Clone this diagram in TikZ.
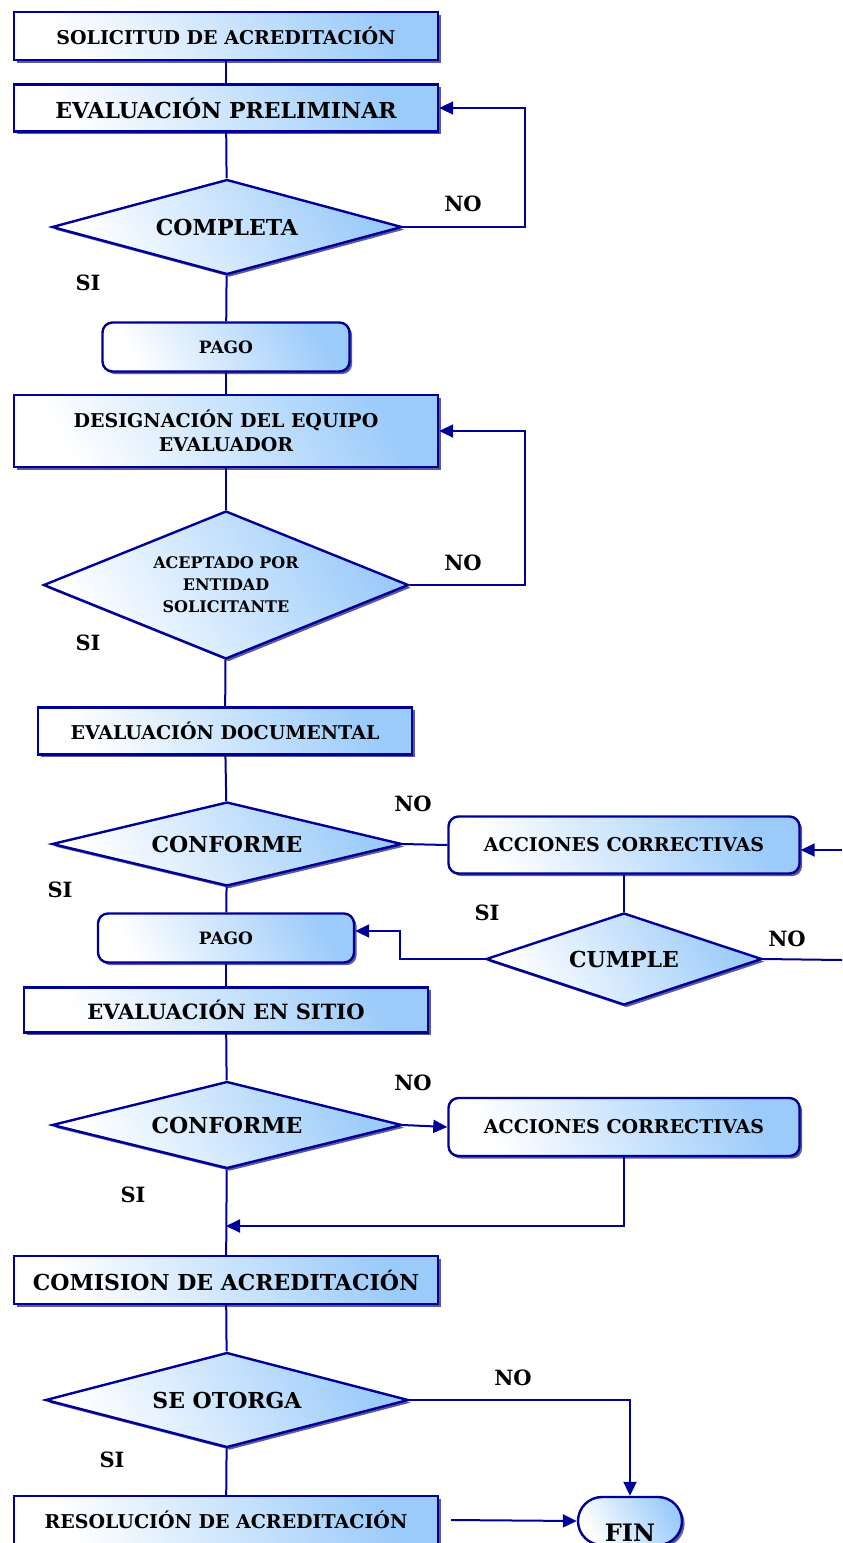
\documentclass[tikz,border=0pt]{standalone}
\usepackage{fontspec}
\setmainfont{DejaVu Serif}
\usetikzlibrary{positioning, shapes, arrows.meta, shadows}

\definecolor{borde}{RGB}{0,0,150}
\definecolor{celeste}{RGB}{155,203,250}
\definecolor{sombra}{RGB}{50,50,130}

\begin{document}
\begin{tikzpicture}
			[x=0.5pt, y=-0.5pt,
			 relleno/.style={draw=borde, line width=1.2pt, top color=celeste, bottom color=white,
			   shading angle=-60, inner sep=0pt, align=center, font=\bfseries,
			   drop shadow={shadow xshift=1.3pt, shadow yshift=-1.3pt, fill=sombra, opacity=0.8}},
			 caja/.style={relleno, rectangle},
			 redonda/.style={relleno, rectangle, rounded corners=5pt},
			 rombo/.style={relleno, diamond, aspect=3},
			 fin/.style={relleno, rounded rectangle},
			 etiq/.style={font=\bfseries\fontsize{10.5}{12}\selectfont},
			 linea/.style={draw=borde, line width=1pt},
			 flecha/.style={linea, -{Triangle[length=7pt, width=6.5pt]}}]
		\useasboundingbox (0,0) rectangle (842,1543);
		% nodes %
		\node[caja, minimum width=212pt, minimum height=24pt, font=\bfseries\fontsize{9.5}{11}\selectfont] (sol) at (226,36) {SOLICITUD DE ACREDITACIÓN};
		\node[caja, minimum width=212pt, minimum height=23.5pt, font=\bfseries\fontsize{11}{13}\selectfont] (pre) at (226,108) {EVALUACIÓN PRELIMINAR};
		\node[rombo, minimum width=175pt, minimum height=47.5pt, font=\bfseries\fontsize{11}{13}\selectfont] (comp) at (227,227) {COMPLETA};
		\node[redonda, minimum width=123.5pt, minimum height=24.5pt, font=\bfseries\fontsize{8.5}{10}\selectfont] (pago1) at (226,347) {PAGO};
		\node[caja, minimum width=212pt, minimum height=36pt, font=\bfseries\fontsize{9.5}{12}\selectfont] (des) at (226,431) {DESIGNACIÓN DEL EQUIPO\\EVALUADOR};
		\node[rombo, minimum width=182.5pt, minimum height=74pt, font=\bfseries\fontsize{8}{11}\selectfont] (acep) at (226,585) {ACEPTADO POR\\ENTIDAD\\SOLICITANTE};
		\node[caja, minimum width=187pt, minimum height=23.5pt, font=\bfseries\fontsize{9.5}{11}\selectfont] (doc) at (225,731) {EVALUACIÓN DOCUMENTAL};
		\node[rombo, minimum width=175pt, minimum height=42pt, font=\bfseries\fontsize{11}{13}\selectfont] (conf1) at (227,844) {CONFORME};
		\node[redonda, minimum width=175.5pt, minimum height=28.5pt, font=\bfseries\fontsize{9.5}{11}\selectfont] (acc1) at (624,845) {ACCIONES CORRECTIVAS};
		\node[rombo, minimum width=138pt, minimum height=46pt, font=\bfseries\fontsize{11}{13}\selectfont] (cump) at (624,959) {CUMPLE};
		\node[redonda, minimum width=128pt, minimum height=24.5pt, font=\bfseries\fontsize{8.5}{10}\selectfont] (pago2) at (226,938) {PAGO};
		\node[caja, minimum width=202pt, minimum height=22.5pt, font=\bfseries\fontsize{10.5}{12}\selectfont] (sitio) at (226,1010) {EVALUACIÓN EN SITIO};
		\node[rombo, minimum width=175pt, minimum height=43.5pt, font=\bfseries\fontsize{11}{13}\selectfont] (conf2) at (227,1125) {CONFORME};
		\node[redonda, minimum width=175.5pt, minimum height=29pt, font=\bfseries\fontsize{9.5}{11}\selectfont] (acc2) at (624,1127) {ACCIONES CORRECTIVAS};
		\node[caja, minimum width=212pt, minimum height=24pt, font=\bfseries\fontsize{11}{13}\selectfont] (com) at (226,1280) {COMISION DE ACREDITACIÓN};
		\node[rombo, minimum width=181.5pt, minimum height=47.5pt, font=\bfseries\fontsize{11}{13}\selectfont] (otor) at (227,1400) {SE OTORGA};
		\node[caja, minimum width=212pt, minimum height=24pt, font=\bfseries\fontsize{9.5}{11}\selectfont] (res) at (226,1520) {RESOLUCIÓN DE ACREDITACIÓN};
		\node[fin, minimum width=52pt, minimum height=24pt, font=\bfseries\fontsize{12}{14}\selectfont] (fin) at (630,1521) {\smash{\raisebox{-10pt}{FIN}}};

		% labels %
		\node[etiq] (no1) at (463,204) {NO};
		\node[etiq] (si1) at (88,283) {SI};
		\node[etiq] (no2) at (463,563) {NO};
		\node[etiq] (si2) at (88,643) {SI};
		\node[etiq] (no3) at (413,804) {NO};
		\node[etiq] (si3) at (60,890) {SI};
		\node[etiq] (si4) at (487,913) {SI};
		\node[etiq] (no4) at (787,939) {NO};
		\node[etiq] (no5) at (413,1083) {NO};
		\node[etiq] (si5) at (133,1195) {SI};
		\node[etiq] (no6) at (513,1378) {NO};
		\node[etiq] (si6) at (112,1460) {SI};

		\coordinate (vuelta1) at (842,850);
		\coordinate (vuelta2) at (842,960);
		\coordinate (unir) at (226,1226);

		% edges %
		\draw[linea] (sol) -- (pre);
		\draw[linea] (pre) -- (comp);
		\draw[flecha] (comp.east) -- ++(122,0) |- (pre.east);
		\draw[linea] (comp) -- (pago1);
		\draw[linea] (pago1) -- (des);
		\draw[linea] (des) -- (acep);
		\draw[flecha] (acep.east) -- ++(115,0) |- (des.east);
		\draw[linea] (acep) -- (doc);
		\draw[linea] (doc) -- (conf1);
		\draw[linea] (conf1.east) -- (acc1.west);
		\draw[flecha] (vuelta1) -- (acc1.east |- vuelta1);
		\draw[linea] (acc1) -- (cump);
		\draw[linea] (cump.east) -- (vuelta2);
		\draw[flecha] (cump.west) -- ++(-85,0) |- ([yshift=3.5pt]pago2.east);
		\draw[linea] (conf1) -- (pago2);
		\draw[linea] (pago2) -- (sitio);
		\draw[linea] (sitio) -- (conf2);
		\draw[flecha] (conf2.east) -- (acc2.west);
		\draw[flecha] (acc2.south) |- (unir);
		\draw[linea] (conf2) -- (com);
		\draw[linea] (com) -- (otor);
		\draw[flecha] (otor.east) -| (fin.north);
		\draw[linea] (otor) -- (res);
		\draw[flecha] ([xshift=6pt]res.east) -- (fin.west);
\end{tikzpicture}
\end{document}
